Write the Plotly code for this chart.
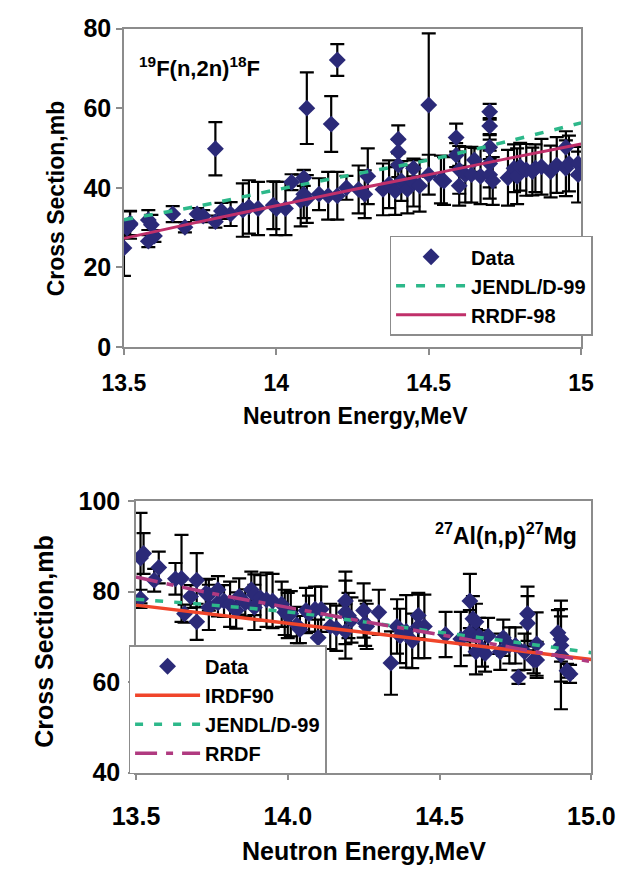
import plotly.graph_objects as go

# ---------------- 19F(n,2n)18F ----------------
f_energy = [13.50,13.51,13.52,13.52,13.58,13.58,13.59,13.60,13.66,13.70,
            13.74,13.76,13.80,13.80,13.82,13.85,13.89,13.91,13.94,13.99,
            14.00,14.03,14.05,14.08,14.10,14.09,14.09,14.10,14.14,14.18,
            14.17,14.20,14.20,14.23,14.27,14.29,14.30,14.35,14.37,14.39,
            14.40,14.40,14.40,14.41,14.43,14.45,14.45,14.47,14.50,14.50,
            14.54,14.55,14.59,14.59,14.60,14.60,14.62,14.65,14.64,14.67,
            14.70,14.70,14.70,14.70,14.70,14.71,14.76,14.78,14.79,14.80,
            14.82,14.84,14.85,14.87,14.90,14.92,14.95,14.95,14.96,14.99,
            14.99]
f_xs = [24.9,29.9,30.7,31.1,31.9,26.6,30.7,27.9,33.4,30.1,
        33.4,32.9,49.8,31.5,34.2,33.4,34.4,35.2,34.8,35.6,
        34.8,34.8,41.4,36.8,60.0,42.5,38.4,37.2,38.4,56.0,
        38.0,72.1,38.0,40.0,39.6,38.4,42.9,39.6,40.9,39.2,
        52.2,49.0,45.7,41.7,39.6,44.9,41.3,40.5,60.8,43.3,
        42.1,41.7,52.6,48.2,44.5,40.5,43.3,47.0,43.3,42.9,
        59.1,55.5,50.2,46.1,43.3,41.7,42.5,44.9,42.9,45.3,
        44.5,44.1,44.9,45.3,44.1,45.7,50.2,44.9,46.1,46.1,
        43.3]
f_err = [7,2,3.5,3,2.5,1.5,2.5,1.5,2,1.3,
         1.5,1.5,6.7,1.5,2,3,6.7,6.7,6.7,6,
         6.7,6.7,2,6.5,9,2,6,6,4,7,
         6,4,6,3,6,6,7,6.5,6,6,
         3.5,3,3,5,6,2,6,6.5,18,5,
         6,6,3.5,3,6,5,7,3,7,7,
         2,2,3,6,6,6,7,6,7,6,
         6.5,6,6,7,6.5,7,4,7,7,3,
         7]
curve_energy = [13.5,13.75,14.0,14.25,14.5,14.75,15.0]
f_jendl = [32.0,35.5,39.5,43.3,47.0,51.5,56.3]
f_rrdf98 = [27.3,31.5,35.5,39.5,43.3,47.2,51.0]

# ---------------- 27Al(n,p)27Mg ----------------
al_energy = [13.515,13.525,13.515,13.56,13.575,13.63,13.65,13.66,13.68,13.70,
             13.70,13.73,13.74,13.74,13.77,13.77,13.79,13.81,13.83,13.84,
             13.86,13.88,13.89,13.89,13.91,13.93,13.95,13.98,13.99,14.00,
             14.01,14.03,14.04,14.06,14.07,14.09,14.10,14.11,14.14,14.16,
             14.19,14.19,14.19,14.20,14.21,14.25,14.255,14.26,14.30,14.34,
             14.36,14.37,14.39,14.41,14.43,14.43,14.45,14.52,14.57,14.60,
             14.60,14.61,14.62,14.62,14.63,14.64,14.65,14.66,14.70,14.71,
             14.73,14.75,14.76,14.78,14.79,14.79,14.81,14.82,14.82,14.89,
             14.90,14.90,14.90,14.92,14.93]
al_xs = [87.4,88.4,78.4,82.5,85.3,82.8,82.9,75.1,78.9,82.5,
         73.3,79.6,79.3,76.5,80.4,77.5,77.9,77.2,75.8,78.9,
         77.5,80.4,79.3,76.5,78.6,78.2,77.9,77.2,75.4,74.7,
         75.1,72.6,71.6,75.8,75.1,76.1,69.8,76.1,72.3,71.9,
         77.9,75.4,71.2,74.7,73.7,75.8,73.0,72.3,75.4,64.2,
         72.3,70.2,71.2,69.1,72.3,74.7,72.3,70.5,69.5,77.9,
         70.9,74.0,66.7,73.3,70.2,67.4,66.3,70.2,66.7,69.8,
         68.1,68.1,61.1,66.7,75.1,73.0,64.9,64.9,68.4,70.9,
         69.5,68.1,66.0,62.5,61.8]
al_err = [10,4.5,2,2.5,3.5,3.5,9.6,2,2.5,6,
          4,3,3.5,5,3,3,3.5,5,4,4,
          3,4,4.5,5,5,6,6,5,5,5,
          5,4,3,5,4,5,4,5,5,5,
          6.5,7,6,5,5,6,5,5,5,7,
          6,6,8,6,7,5,7,5,6,6,
          5,5,5,4,4,4,4,4,4,4,
          4,4,1.5,4,6,6,3,4,7,5,
          5,8,12,1.5,2]
al_irdf90 = [77.0,75.0,73.0,71.0,69.0,67.0,65.0]
al_jendl = [78.3,77.0,75.5,73.3,71.0,68.8,66.5]
al_rrdf = [83.2,79.6,76.5,73.4,70.5,67.5,64.5]

f_ticks = [13.5, 14, 14.5, 15]
f_ticktext = ["13.5", "14", "14.5", "15"]
al_ticks = [13.5, 14.0, 14.5, 15.0]
al_ticktext = ["13.5", "14.0", "14.5", "15.0"]

W, H = 644, 881
FONT = "Liberation Sans"
NAVY = "#2B2A78"
GREEN = "#2DB88A"
CRIMSON = "#C0306A"
RED = "#F0452A"
MAGENTA = "#B03A80"
AXC = "#8C8C8C"


def px(x):
    return x / W


def py(y):
    return 1 - y / H


fig = go.Figure()

marker = dict(symbol="diamond", size=13, color=NAVY)

# top panel
fig.add_trace(go.Scatter(
    x=f_energy, y=f_xs, mode="markers", name="Data", marker=marker,
    error_y=dict(type="data", array=f_err, color="black", thickness=2.2, width=7),
    xaxis="x", yaxis="y", legend="legend"))
fig.add_trace(go.Scatter(
    x=curve_energy, y=f_jendl, mode="lines", name="JENDL/D-99",
    line=dict(color=GREEN, width=3.5, dash="9px,11px", shape="spline"),
    xaxis="x", yaxis="y", legend="legend"))
fig.add_trace(go.Scatter(
    x=curve_energy, y=f_rrdf98, mode="lines", name="RRDF-98",
    line=dict(color=CRIMSON, width=3, shape="spline"),
    xaxis="x", yaxis="y", legend="legend"))

# bottom panel
fig.add_trace(go.Scatter(
    x=al_energy, y=al_xs, mode="markers", name="Data", marker=marker,
    error_y=dict(type="data", array=al_err, color="black", thickness=2.2, width=7),
    xaxis="x2", yaxis="y2", legend="legend2"))
fig.add_trace(go.Scatter(
    x=curve_energy, y=al_irdf90, mode="lines", name="IRDF90",
    line=dict(color=RED, width=3.5),
    xaxis="x2", yaxis="y2", legend="legend2"))
fig.add_trace(go.Scatter(
    x=curve_energy, y=al_jendl, mode="lines", name="JENDL/D-99",
    line=dict(color=GREEN, width=3.5, dash="8px,11px", shape="spline"),
    xaxis="x2", yaxis="y2", legend="legend2"))
fig.add_trace(go.Scatter(
    x=curve_energy, y=al_rrdf, mode="lines", name="RRDF",
    line=dict(color=MAGENTA, width=3.5, dash="22px,9px,7px,9px", shape="spline"),
    xaxis="x2", yaxis="y2", legend="legend2"))


def axis(size, standoff, **kw):
    d = dict(showline=True, linecolor=AXC, linewidth=1.5, mirror=True,
             ticks="outside", ticklen=6, tickcolor=AXC, tickwidth=1.5,
             showgrid=False, zeroline=False, fixedrange=True,
             ticklabelstandoff=standoff,
             tickfont=dict(family=FONT, size=size, color="black", weight="bold"))
    d.update(kw)
    return d


legend_font = dict(family=FONT, size=20, color="black", weight="bold")

fig.update_layout(
    width=W, height=H,
    margin=dict(l=0, r=0, t=0, b=0),
    paper_bgcolor="white", plot_bgcolor="white",
    showlegend=True,
    xaxis=axis(23, 9, domain=[px(108), px(602)], range=[13.5, 15],
               tickvals=f_ticks, ticktext=f_ticktext, anchor="y"),
    yaxis=axis(25, 0, domain=[py(344), py(15)], range=[0, 80], dtick=20,
               anchor="x"),
    xaxis2=axis(25, 15, domain=[px(121), px(613)], range=[13.5, 15],
                tickvals=al_ticks, ticktext=al_ticktext, anchor="y2"),
    yaxis2=axis(25, 3, domain=[py(783.5), py(503)], range=[40, 100], dtick=20,
                anchor="x2"),
    legend=dict(x=px(395), y=py(229), xanchor="left", yanchor="top",
                bgcolor="white", bordercolor=AXC, borderwidth=1.5,
                font=legend_font, itemwidth=70),
    legend2=dict(x=px(113), y=py(652), xanchor="left", yanchor="top",
                 bgcolor="white", bordercolor=AXC, borderwidth=1.5,
                 font=legend_font, itemwidth=65),
)

ann = [
    dict(text="Cross Section,mb", x=px(35), y=py(190), textangle=-90, size=23),
    dict(text="Neutron Energy,MeV", x=px(358), y=py(415), size=23),
    dict(text="Cross Section,mb", x=px(22), y=py(648), textangle=-90, size=25),
    dict(text="Neutron Energy,MeV", x=px(367), y=py(864), size=25),
]
for a in ann:
    size = a.pop("size")
    fig.add_annotation(xref="paper", yref="paper", showarrow=False,
                       xanchor="center", yanchor="middle",
                       font=dict(family=FONT, size=size, color="black", weight="bold"),
                       **a)

fig.add_annotation(xref="paper", yref="paper", showarrow=False,
                   text="<sup>19</sup>F(n,2n)<sup>18</sup>F",
                   x=px(122), y=py(55), xanchor="left", yanchor="middle",
                   font=dict(family=FONT, size=22, color="black", weight="bold"))
fig.add_annotation(xref="paper", yref="paper", showarrow=False,
                   text="<sup>27</sup>Al(n,p)<sup>27</sup>Mg",
                   x=px(600), y=py(537), xanchor="right", yanchor="middle",
                   font=dict(family=FONT, size=23, color="black", weight="bold"))

fig.write_html("out.html")
